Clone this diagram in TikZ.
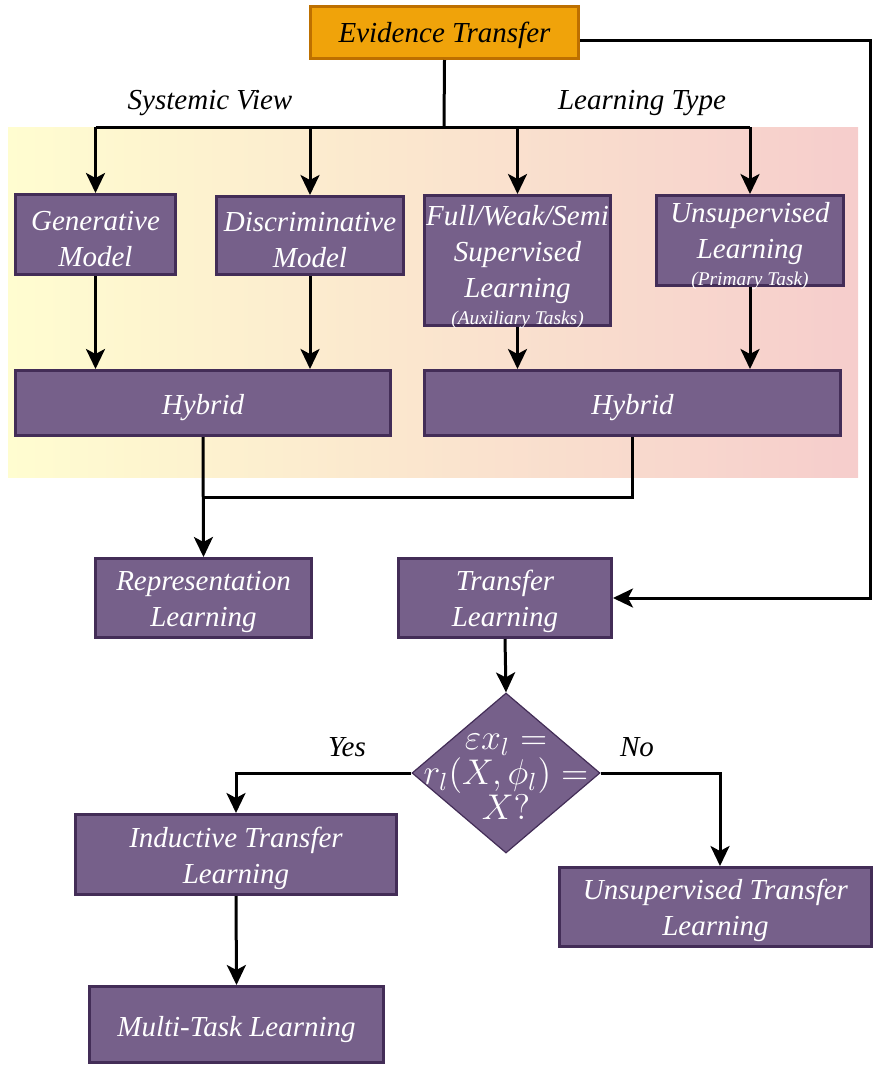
\documentclass[tikz,border=0pt]{standalone}
\usepackage{fontspec}
\setmainfont{Liberation Serif}[ItalicFont={Liberation Serif Italic}]
\usetikzlibrary{arrows.meta,shapes.geometric}
\definecolor{boxfill}{HTML}{76608A}
\definecolor{boxline}{HTML}{432D57}
\definecolor{topfill}{HTML}{F0A30A}
\definecolor{topline}{HTML}{BD7000}
\definecolor{bgleft}{HTML}{FFFDD0}
\definecolor{bgright}{HTML}{F6CDCC}
\tikzset{
  pbox/.style={draw=boxline, fill=boxfill, line width=1.5pt, text=white,
    font=\fontsize{14.5}{18}\selectfont\itshape, align=center, inner sep=1pt,
    execute at begin node={\rule{0pt}{15pt}}},
  ptext/.style={text=white, font=\fontsize{14.5}{18}\selectfont\itshape,
    align=center, inner sep=0pt},
  tbox/.style={draw=topline, fill=topfill, line width=1.5pt, text=black,
    font=\fontsize{14.5}{18}\selectfont\itshape, align=center, inner sep=1pt,
    execute at begin node={\rule{0pt}{13pt}}},
  dbox/.style={diamond, draw=boxline, fill=boxfill, line width=0.6pt, inner sep=0pt},
  lbl/.style={font=\fontsize{14.5}{18}\selectfont\itshape, text=black, inner sep=0pt},
  arr/.style={line width=1.5pt, -{Stealth[length=10pt,width=9.5pt,inset=2.5pt]}},
  ln/.style={line width=1.5pt},
}
\newcommand{\smalltxt}[1]{{\fontsize{9.7}{11}\selectfont #1}}
% taller first line pushes multi-line labels a little lower in their boxes
\newcommand{\firstline}[1][14pt]{\rule{0pt}{#1}}
\begin{document}
\begin{tikzpicture}[x=0.5pt,y=-0.5pt]
\useasboundingbox (0,0) rectangle (875,1066);
% shaded band behind the two upper branches
\shade[left color=bgleft, right color=bgright] (8,127) rectangle (858,477);

% boxes
\node[tbox, minimum width=134pt, minimum height=26pt] (et) at (444.5,32.5) {Evidence Transfer};
\node[pbox, minimum width=80pt, minimum height=40pt] (gen) at (95.5,234.5) {\firstline Generative\\Model};
\node[pbox, minimum width=93.5pt, minimum height=39pt] (disc) at (310,235.5) {\firstline Discriminative\\Model};
\node[pbox, minimum width=93pt, minimum height=65pt] (full) at (517.5,260.5) {};
\node[ptext] (fulltext) at ([yshift=-3.5pt]full.center)
  {Full/Weak/Semi\\Supervised\\Learning\\[-4.5pt]\smalltxt{(Auxiliary Tasks)}};
\node[pbox, minimum width=93.5pt, minimum height=45pt] (unsup) at (750,240.5) {};
\node[ptext] (unsuptext) at ([yshift=-3pt]unsup.center)
  {Unsupervised\\Learning\\[-4.5pt]\smalltxt{(Primary Task)}};
\node[pbox, minimum width=187.5pt, minimum height=32.5pt] (hybl) at (203,403) {Hybrid};
\node[pbox, minimum width=208pt, minimum height=32.5pt] (hybr) at (632.5,403) {Hybrid};
\node[pbox, minimum width=108pt, minimum height=39.5pt] (rep) at (203.5,598) {\firstline Representation\\Learning};
\node[pbox, minimum width=106.5pt, minimum height=39.5pt] (trans) at (505,598) {\firstline Transfer\\Learning};
\node[dbox, minimum width=94pt, minimum height=80pt] (dia) at (506,773) {};
\node[text=white, inner sep=0pt] (diatext) at ([yshift=-2pt]dia.center)
  {\scalebox{1.24}{\parbox{80pt}{\centering\fontsize{14.4}{14.1}\selectfont\lineskiplimit=-20pt
   $\varepsilon x_l =$\\ $r_l(X,\phi_l) =$\\ $X?$}}};
\node[pbox, minimum width=160.5pt, minimum height=40pt] (ind) at (236,854.5) {\firstline Inductive Transfer\\Learning};
\node[pbox, minimum width=156pt, minimum height=39.5pt] (unst) at (715.5,907) {\firstline Unsupervised Transfer\\Learning};
\node[pbox, minimum width=147pt, minimum height=38pt] (multi) at (236.5,1024.5) {Multi-Task Learning};

% labels
\node[lbl] (sysv) at (210,103) {Systemic View};
\node[lbl] (ltype) at (642,103) {Learning Type};
\node[lbl] (yes) at (347,747) {Yes};
\node[lbl] (no) at (637,747) {No};

% routing points
\coordinate (bus) at (444,127);
\coordinate (join) at (203,497);
\coordinate (rside) at (870,598);

% top fan-out
\draw[ln] (et.south) -- (bus);
\draw[ln] (gen.north |- bus) -- (unsup.north |- bus);
\draw[arr] (gen.north |- bus) -- (gen.north);
\draw[arr] (disc.north |- bus) -- (disc.north);
\draw[arr] (full.north |- bus) -- (full.north);
\draw[arr] (unsup.north |- bus) -- (unsup.north);

% into the hybrids
\draw[arr] (gen) -- (gen.south |- hybl.north);
\draw[arr] (disc) -- (disc.south |- hybl.north);
\draw[arr] (full) -- (full.south |- hybr.north);
\draw[arr] (unsup) -- (unsup.south |- hybr.north);

% hybrids merge into representation learning
\draw[ln] (hybr.south) |- (join);
\draw[arr] (hybl.south) -- (rep.north);

% evidence transfer to transfer learning
\draw[arr] ([yshift=-3.75pt]et.east) -| (rside) -- (trans.east);

% decision
\draw[arr] (trans.south) -- (dia.north);
\draw[arr] (dia.west) -| (ind.north);
\draw[arr] (dia.east) -| ([xshift=2.25pt]unst.north);
\draw[arr] (ind.south) -- (multi.north);
\end{tikzpicture}
\end{document}
